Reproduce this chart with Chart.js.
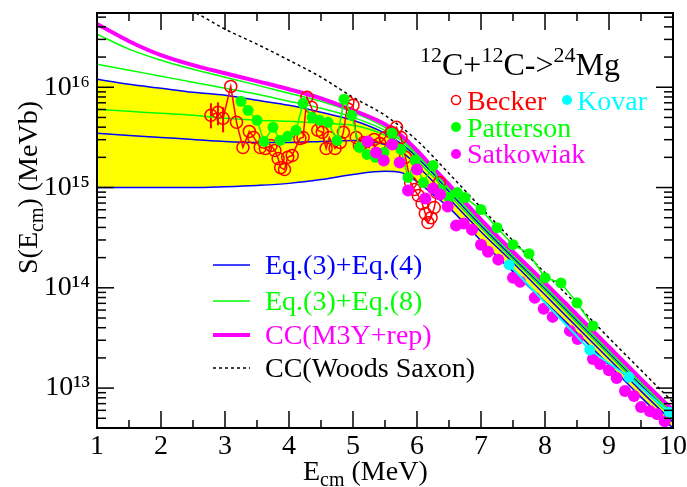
<!DOCTYPE html>
<html>
<head>
<meta charset="utf-8">
<title>12C+12C S-factor</title>
<script src="https://cdn.jsdelivr.net/npm/chart.js@4.4.1/dist/chart.umd.min.js"></script>
<style>
  html, body { margin: 0; padding: 0; background: #fff; }
  canvas { display: block; }
</style>
</head>
<body>
<canvas id="chart" width="687" height="487"></canvas>
<script>
// energies (MeV) used by the model curves
var modelE = [1, 1.5, 2, 2.5, 3, 3.5, 4, 4.5, 5, 5.5, 5.75, 6, 6.25, 6.5, 7, 7.5, 8, 8.5, 9, 9.5, 10];

// S factor (MeV b), model curves
var ccM3Y  = [4.27e16, 2.88e16, 2.09e16, 1.66e16, 1.38e16, 1.15e16, 9.55e15, 7.76e15, 5.89e15, 4.27e15, 3.31e15, 2.34e15, 1.58e15, 1.07e15, 4.79e14, 2.29e14, 1.12e14, 5.37e13, 2.57e13, 1.23e13, 6.03e12];
var eq8Hi  = [3.39e16, 2.40e16, 1.86e16, 1.51e16, 1.26e16, 1.05e16, 8.71e15, 7.24e15, 5.62e15, 3.98e15, 3.09e15, 2.19e15, 1.51e15, 1.00e15, 4.57e14, 2.19e14, 1.07e14, 5.13e13, 2.45e13, 1.17e13, 5.75e12];
var eq8Mid = [1.70e16, 1.48e16, 1.29e16, 1.12e16, 9.77e15, 8.51e15, 7.24e15, 6.17e15, 5.01e15, 3.72e15, 2.95e15, 2.09e15, 1.45e15, 9.55e14, 4.37e14, 2.09e14, 1.02e14, 4.90e13, 2.34e13, 1.12e13, 5.50e12];
var eq8Lo  = [6.03e15, 5.75e15, 5.50e15, 5.25e15, 4.90e15, 4.68e15, 4.57e15, 4.37e15, 4.17e15, 3.31e15, 2.63e15, 1.86e15, 1.29e15, 8.51e14, 3.98e14, 1.91e14, 9.33e13, 4.47e13, 2.14e13, 1.02e13, 5.01e12];
var eq4Hi  = [1.20e16, 1.07e16, 9.77e15, 8.91e15, 8.32e15, 7.41e15, 6.61e15, 5.62e15, 4.68e15, 3.47e15, 2.75e15, 2.00e15, 1.38e15, 9.12e14, 4.17e14, 2.00e14, 9.77e13, 4.68e13, 2.24e13, 1.07e13, 5.25e12];
var eq4Mid = [3.47e15, 3.31e15, 3.16e15, 3.02e15, 2.88e15, 2.82e15, 2.82e15, 2.88e15, 2.95e15, 2.69e15, 2.29e15, 1.66e15, 1.15e15, 7.76e14, 3.63e14, 1.78e14, 8.51e13, 4.07e13, 1.95e13, 9.33e12, 4.57e12];
var eq4Lo  = [1.00e15, 1.00e15, 1.00e15, 1.00e15, 1.02e15, 1.05e15, 1.10e15, 1.20e15, 1.35e15, 1.45e15, 1.41e15, 1.15e15, 8.51e14, 6.31e14, 2.95e14, 1.45e14, 7.24e13, 3.55e13, 1.70e13, 8.13e12, 3.98e12];

var wsE = [2.55, 3, 3.5, 4, 4.5, 5, 5.5, 6, 6.5, 7, 7.5, 8, 8.5, 9, 9.5, 10];
var ccWS = [5.50e16, 3.80e16, 2.69e16, 1.86e16, 1.26e16, 7.94e15, 5.25e15, 2.95e15, 1.38e15, 6.31e14, 2.95e14, 1.41e14, 6.76e13, 3.16e13, 1.51e13, 7.24e12];

// measurements
var beckerE = [2.78, 2.89, 2.97, 3.09, 3.18, 3.28, 3.38, 3.45, 3.55, 3.63, 3.72, 3.78, 3.83, 3.87, 3.93, 3.98, 4.05, 4.17, 4.22, 4.28, 4.35, 4.45, 4.52, 4.58, 4.63, 4.72, 4.8, 4.85, 4.92, 5.0, 5.05, 5.1, 5.17, 5.25, 5.33, 5.42, 5.5, 5.6, 5.68, 5.75, 5.82, 5.9, 5.96, 6.02, 6.08, 6.13, 6.17, 6.22, 6.27, 6.31, 6.35];
var beckerS = [5.25e15, 5.62e15, 4.90e15, 1.02e16, 4.47e15, 2.51e15, 3.63e15, 3.16e15, 2.51e15, 2.45e15, 2.63e15, 2.34e15, 1.95e15, 1.58e15, 1.51e15, 2.00e15, 2.09e15, 3.09e15, 3.16e15, 7.94e15, 6.31e15, 3.72e15, 3.55e15, 2.45e15, 3.16e15, 2.45e15, 2.82e15, 3.55e15, 7.08e15, 6.61e15, 3.16e15, 2.63e15, 2.82e15, 2.51e15, 3.02e15, 2.75e15, 3.16e15, 3.55e15, 3.98e15, 3.16e15, 2.00e15, 1.12e15, 9.55e14, 8.32e14, 6.92e14, 5.50e14, 4.47e14, 5.01e14, 6.31e14, 8.91e14, 1.12e15];
var beckerErrE  = [2.78, 2.89, 2.97];
var beckerErrLo = [3.89e15, 4.17e15, 3.55e15];
var beckerErrHi = [6.92e15, 7.08e15, 6.31e15];

var pattersonE = [3.25, 3.36, 3.5, 3.61, 3.75, 3.86, 3.98, 4.11, 4.22, 4.36, 4.48, 4.61, 4.75, 4.86, 4.98, 5.1, 5.22, 5.35, 5.48, 5.61, 5.75, 5.86, 5.97, 6.1, 6.25, 6.37, 6.5, 6.63, 6.75, 7.0, 7.25, 7.5, 7.75, 8.0, 8.25, 8.5, 8.75];
var pattersonS = [7.24e15, 5.89e15, 4.68e15, 2.88e15, 3.98e15, 2.95e15, 3.24e15, 3.72e15, 6.92e15, 5.01e15, 4.68e15, 4.47e15, 2.95e15, 7.59e15, 5.25e15, 2.51e15, 2.14e15, 2.00e15, 2.24e15, 3.47e15, 2.40e15, 1.26e15, 1.86e15, 1.12e15, 1.66e15, 9.55e14, 7.94e14, 8.91e14, 7.94e14, 6.03e14, 3.98e14, 2.69e14, 2.19e14, 1.26e14, 1.12e14, 7.08e13, 4.17e13];

var satkowiakE = [5.23, 5.36, 5.48, 5.61, 5.73, 5.86, 6.0, 6.13, 6.25, 6.36, 6.48, 6.61, 6.73, 6.86, 7.0, 7.11, 7.27, 7.5, 7.61, 7.84, 7.98, 8.12, 8.39, 8.51, 8.75, 8.86, 9.0, 9.12, 9.25, 9.39, 9.5, 9.64, 9.75, 9.87];
var satkowiakS = [2.88e15, 2.24e15, 1.86e15, 2.69e15, 1.78e15, 9.33e14, 1.51e15, 7.76e14, 9.77e14, 8.51e14, 6.46e14, 4.17e14, 4.37e14, 3.80e14, 2.69e14, 2.29e14, 1.91e14, 1.26e14, 1.15e14, 7.94e13, 6.17e13, 5.13e13, 3.72e13, 3.09e13, 1.95e13, 1.74e13, 1.51e13, 1.26e13, 9.33e12, 8.32e12, 6.46e12, 5.89e12, 5.50e12, 4.68e12];

var kovarE = [7.44, 8.70, 9.31, 9.94];
var kovarS = [1.70e14, 2.40e13, 1.29e13, 5.75e12];

var energyTicks = [1, 2, 3, 4, 5, 6, 7, 8, 9, 10];
var decadeTicks = [1e13, 1e14, 1e15, 1e16];

var serif = "'Liberation Serif', 'Times New Roman', Times, serif";
var RED = '#ff0000', GREEN = '#00ff00', BLUE = '#0000ff', MAGENTA = '#ff00ff', CYAN = '#00ffff';

function pts(xs, ys) {
  return xs.map(function (x, i) { return { x: x, y: ys[i] }; });
}

var supDigits = { '0': '\u2070', '1': '\u00b9', '2': '\u00b2', '3': '\u00b3', '4': '\u2074', '5': '\u2075', '6': '\u2076', '7': '\u2077', '8': '\u2078', '9': '\u2079' };
function powerLabel(v) {
  var e = String(Math.round(Math.log10(v)));
  return '10' + e.split('').map(function (d) { return supDigits[d]; }).join('');
}

// text with sub/superscript pieces
function drawRuns(ctx, runs, x, y) {
  runs.forEach(function (r) {
    ctx.font = r.size + 'px ' + serif;
    ctx.fillText(r.t, x, y + (r.dy || 0));
    x += ctx.measureText(r.t).width;
  });
}

function seg(ctx, x1, y1, x2, y2) {
  ctx.beginPath(); ctx.moveTo(x1, y1); ctx.lineTo(x2, y2); ctx.stroke();
}

function label(ctx, text, color, x, y) {
  ctx.font = '28px ' + serif;
  ctx.fillStyle = color;
  ctx.fillText(text, x, y);
}

function dot(ctx, color, x, y, r) {
  ctx.fillStyle = color;
  ctx.beginPath(); ctx.arc(x, y, r, 0, Math.PI * 2); ctx.fill();
}

var decor = {
  id: 'decor',
  beforeDatasetsDraw: function (chart) {
    var ctx = chart.ctx, xs = chart.scales.x, ys = chart.scales.y;
    ctx.save();
    ctx.strokeStyle = RED; ctx.lineWidth = 2;
    beckerErrE.forEach(function (e, i) {
      var px = xs.getPixelForValue(e);
      seg(ctx, px, ys.getPixelForValue(beckerErrLo[i]), px, ys.getPixelForValue(beckerErrHi[i]));
    });
    ctx.restore();
  },
  afterDraw: function (chart) {
    var ctx = chart.ctx, a = chart.chartArea, xs = chart.scales.x, ys = chart.scales.y;
    ctx.save();
    ctx.strokeStyle = '#000';
    ctx.lineWidth = 2;
    ctx.strokeRect(a.left, a.top, a.right - a.left, a.bottom - a.top);

    // inward ticks on all four sides
    ctx.lineWidth = 1.5;
    for (var e = 1; e <= 10; e += 0.5) {
      var px = xs.getPixelForValue(e);
      var len = (e % 1 === 0) ? 17 : 8;
      seg(ctx, px, a.bottom, px, a.bottom - len);
      seg(ctx, px, a.top, px, a.top + len);
    }
    for (var p = 12; p <= 16; p++) {
      for (var m = 1; m <= 9; m++) {
        var v = m * Math.pow(10, p);
        if (v < ys.min || v > ys.max) continue;
        var py = ys.getPixelForValue(v);
        var l = (m === 1) ? 17 : 9;
        seg(ctx, a.left, py, a.left + l, py);
        seg(ctx, a.right, py, a.right - l, py);
      }
    }

    // axis titles
    ctx.fillStyle = '#000';
    ctx.textAlign = 'left';
    ctx.textBaseline = 'alphabetic';
    drawRuns(ctx, [{ t: 'E', size: 28 }, { t: 'cm', size: 20, dy: 6 }, { t: ' (MeV)', size: 28 }], 303, 480);
    ctx.save();
    ctx.translate(37, 274);
    ctx.rotate(-Math.PI / 2);
    drawRuns(ctx, [{ t: 'S(E', size: 28 }, { t: 'cm', size: 20, dy: 6 }, { t: ') (MeVb)', size: 28 }], 0, 0);
    ctx.restore();

    // reaction label
    drawRuns(ctx, [
      { t: '12', size: 22, dy: -13 }, { t: 'C+', size: 32 },
      { t: '12', size: 22, dy: -13 }, { t: 'C->', size: 32 },
      { t: '24', size: 22, dy: -13 }, { t: 'Mg', size: 32 }
    ], 420, 75);

    // data legend
    ctx.lineWidth = 1.5;
    ctx.strokeStyle = RED;
    ctx.beginPath(); ctx.arc(456, 100, 4.5, 0, Math.PI * 2); ctx.stroke();
    label(ctx, 'Becker', RED, 467, 110);
    dot(ctx, CYAN, 567, 100, 5);
    label(ctx, 'Kovar', CYAN, 577, 110);
    dot(ctx, GREEN, 456, 127, 5);
    label(ctx, 'Patterson', GREEN, 467, 137);
    dot(ctx, MAGENTA, 456, 154, 5);
    label(ctx, 'Satkowiak', MAGENTA, 467, 163);

    // model legend
    var rows = [
      { text: 'Eq.(3)+Eq.(4)', color: BLUE, width: 1.5, dash: [], y: 265 },
      { text: 'Eq.(3)+Eq.(8)', color: GREEN, width: 1.5, dash: [], y: 301 },
      { text: 'CC(M3Y+rep)', color: MAGENTA, width: 4, dash: [], y: 335 },
      { text: 'CC(Woods Saxon)', color: '#000', width: 1.5, dash: [3, 3], y: 368 }
    ];
    ctx.textBaseline = 'middle';
    rows.forEach(function (r) {
      ctx.strokeStyle = r.color; ctx.lineWidth = r.width; ctx.setLineDash(r.dash);
      seg(ctx, 213, r.y, 250, r.y);
      ctx.setLineDash([]);
      label(ctx, r.text, r.color, 265, r.y + 2);
    });
    ctx.restore();
  }
};

var ctx = document.getElementById('chart').getContext('2d');
Chart.defaults.font.family = serif;

var chart = new Chart(ctx, {
  type: 'line',
  data: {
    datasets: [
      { label: 'Kovar', data: pts(kovarE, kovarS), borderColor: CYAN, backgroundColor: CYAN, borderWidth: 2,
        pointRadius: 5.5, pointBorderWidth: 0, pointBackgroundColor: CYAN, order: 1 },
      { label: 'Satkowiak', data: pts(satkowiakE, satkowiakS), showLine: false, borderColor: MAGENTA,
        pointRadius: 6, pointBorderWidth: 0, pointBackgroundColor: MAGENTA, order: 2 },
      { label: 'Patterson', data: pts(pattersonE, pattersonS), borderColor: GREEN, borderWidth: 1.5,
        pointRadius: 5.5, pointBorderWidth: 0, pointBackgroundColor: GREEN, order: 3 },
      { label: 'Becker', data: pts(beckerE, beckerS), borderColor: RED, borderWidth: 1.5,
        pointRadius: 6, pointBorderWidth: 1.5, pointBorderColor: RED, pointBackgroundColor: 'rgba(0,0,0,0)', order: 4 },
      { label: 'CC(Woods Saxon)', data: pts(wsE, ccWS), borderColor: '#000', borderWidth: 1.5, borderDash: [3, 3],
        pointRadius: 0, cubicInterpolationMode: 'monotone', order: 5 },
      { label: 'CC(M3Y+rep)', data: pts(modelE, ccM3Y), borderColor: MAGENTA, borderWidth: 4,
        pointRadius: 0, cubicInterpolationMode: 'monotone', order: 6 },
      { label: 'Eq.(3)+Eq.(8) a', data: pts(modelE, eq8Hi), borderColor: GREEN, borderWidth: 1.5,
        pointRadius: 0, cubicInterpolationMode: 'monotone', order: 7 },
      { label: 'Eq.(3)+Eq.(8) b', data: pts(modelE, eq8Mid), borderColor: GREEN, borderWidth: 1.5,
        pointRadius: 0, cubicInterpolationMode: 'monotone', order: 7 },
      { label: 'Eq.(3)+Eq.(8) c', data: pts(modelE, eq8Lo), borderColor: GREEN, borderWidth: 1.5,
        pointRadius: 0, cubicInterpolationMode: 'monotone', order: 7 },
      { label: 'Eq.(3)+Eq.(4) a', data: pts(modelE, eq4Hi), borderColor: BLUE, borderWidth: 1.5,
        pointRadius: 0, cubicInterpolationMode: 'monotone', order: 8 },
      { label: 'Eq.(3)+Eq.(4) b', data: pts(modelE, eq4Mid), borderColor: BLUE, borderWidth: 1.5,
        pointRadius: 0, cubicInterpolationMode: 'monotone', order: 8 },
      { label: 'Eq.(3)+Eq.(4) c', data: pts(modelE, eq4Lo), borderColor: BLUE, borderWidth: 1.5,
        pointRadius: 0, cubicInterpolationMode: 'monotone', fill: 9, backgroundColor: '#ffff00', order: 9 }
    ]
  },
  options: {
    responsive: false,
    animation: false,
    devicePixelRatio: 1,
    events: [],
    layout: { padding: { top: 13, right: 14, left: 0, bottom: 0 } },
    plugins: {
      legend: { display: false },
      tooltip: { enabled: false },
      filler: { drawTime: 'beforeDatasetsDraw', propagate: false }
    },
    scales: {
      x: {
        type: 'linear', min: 1, max: 10,
        grid: { display: false, drawTicks: false },
        border: { display: false },
        afterBuildTicks: function (s) { s.ticks = energyTicks.map(function (v) { return { value: v }; }); },
        ticks: { color: '#000', font: { size: 28, family: serif }, padding: 2, maxRotation: 0, autoSkip: false },
        afterFit: function (s) { s.height = 59; s.paddingLeft = 0; s.paddingRight = 0; }
      },
      y: {
        type: 'logarithmic', min: 4e12, max: 5.5e16,
        grid: { display: false, drawTicks: false },
        border: { display: false },
        afterBuildTicks: function (s) { s.ticks = decadeTicks.map(function (v) { return { value: v }; }); },
        ticks: { color: '#000', font: { size: 28, family: serif }, padding: 7, autoSkip: false, callback: powerLabel },
        afterFit: function (s) { s.width = 97; s.paddingTop = 0; s.paddingBottom = 0; }
      }
    }
  },
  plugins: [decor]
});
</script>
</body>
</html>
